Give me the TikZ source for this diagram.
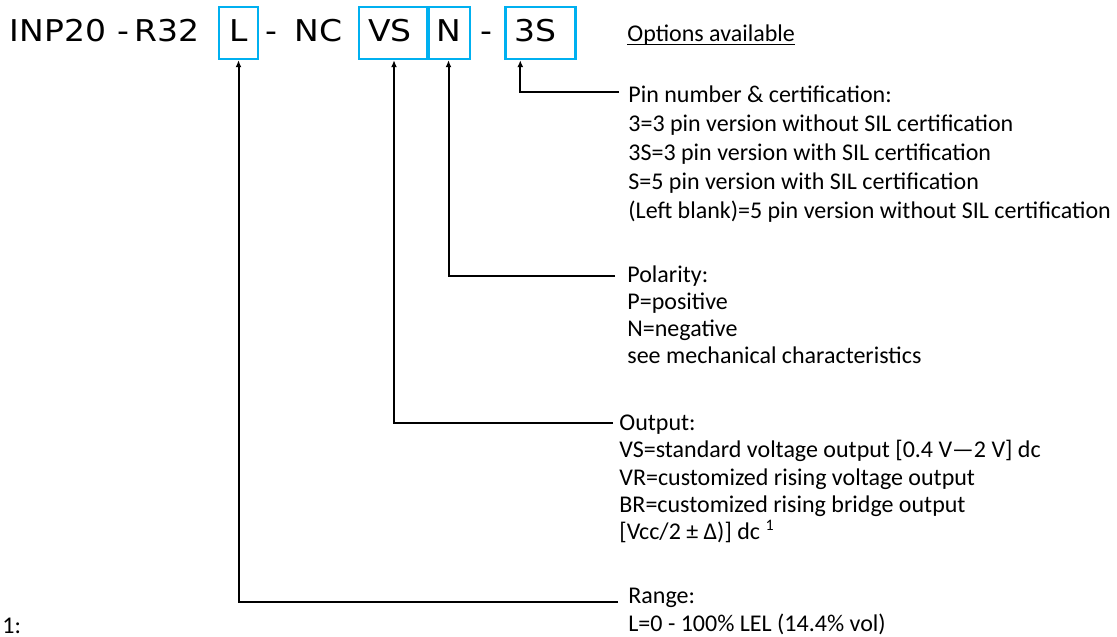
\documentclass[tikz,border=0pt]{standalone}
\usepackage{fontspec}
\setmainfont{Carlito}
\newfontfamily\codefont[FakeStretch=1.1]{DejaVu Sans}
\usetikzlibrary{arrows.meta}
\definecolor{optblue}{RGB}{0,176,240}
\newcommand{\tstrut}{\rule{0pt}{9pt}}

\begin{document}
\begin{tikzpicture}[x=0.5pt,y=-0.5pt,
    >={Latex[length=3.5pt,width=3pt]},
    code/.style={
% The font:
font=\codefont\fontsize{15}{18}\selectfont,
% The size:
inner sep=0pt,
anchor=base,
},
    codebox/.style={
% The shape:
rectangle, align=left,
% The size:
text height=11pt, text depth=2pt,
minimum height=26pt,
inner xsep=4.5pt, inner ysep=0pt,
% The border:
draw=optblue, line width=1.2pt,
% The font:
font=\codefont\fontsize{15}{18}\selectfont,
},
    option/.style={
% The shape:
rectangle, align=left,
% The size:
inner sep=0pt, anchor=north west,
% The font:
font=\fontsize{12}{14.5}\selectfont,
},
    link/.style={->, line width=1pt},
]
  \useasboundingbox (0,0) rectangle (1117,636);

  % ordering code
  \node[code]                            (inp) at (58,42) {INP20};
  \node[code]                            (d1) at (123,42) {-};
  \node[code]                            (r32) at (167,42) {R32};
  \node[codebox,minimum width=19.5pt]    (bL) at (238.5,33) {L};
  \node[code]                            (d2) at (271.5,42) {-};
  \node[code]                            (nc) at (318.5,42) {NC};
  \node[codebox,text width=26pt]         (bVS) at (394,33) {VS};
  \node[codebox,minimum width=19.5pt]    (bN) at (448.5,33) {N};
  \node[code]                            (d3) at (486,42) {-};
  \node[codebox,text width=26pt]         (b3S) at (540.5,33) {3S};

  \node[anchor=base west,inner sep=0pt,font=\fontsize{12}{14.5}\selectfont]
    (opt) at (627,42) {Options available};
  \draw[line width=0.5pt] ([yshift=-1.5pt]opt.base west) -- ([yshift=-1.5pt]opt.base east);

  % options
  \node[option] (pin) at (628,84) {\tstrut Pin number \& certification:\\
    3=3 pin version without SIL certification\\
    3S=3 pin version with SIL certification\\
    S=5 pin version with SIL certification\\
    (Left blank)=5 pin version without SIL certification};
  \node[option,font=\fontsize{12}{13.5}\selectfont] (pol) at (627,264) {\tstrut Polarity:\\
    P=positive\\
    N=negative\\
    see mechanical characteristics};
  \node[option,font=\fontsize{12}{13.65}\selectfont] (out) at (619,412) {\tstrut Output:\\
    VS=standard voltage output [0.4 V—2 V] dc\\
    VR=customized rising voltage output\\
    BR=customized rising bridge output\\
    {[}Vcc/2 ± Δ)] dc \textsuperscript{1}};
  \node[option,font=\fontsize{12}{14}\selectfont] (rng) at (628,585) {\tstrut Range:\\
    L=0 - 100\% LEL (14.4\% vol)};
  \node[anchor=base west,inner sep=0pt,font=\fontsize{12}{14.5}\selectfont]
    (fn) at (2,633) {1:};

  \coordinate (pinC) at (619,92);
  \coordinate (polC) at (615,276);
  \coordinate (outC) at (613,423);
  \coordinate (rngC) at (618,602);

  \draw[link] (pinC) -| ([xshift=8pt]b3S.south west);
  \draw[link] (polC) -| (bN.south);
  \draw[link] (outC) -| (bVS.south);
  \draw[link] (rngC) -| (bL.south);

\end{tikzpicture}
\end{document}
